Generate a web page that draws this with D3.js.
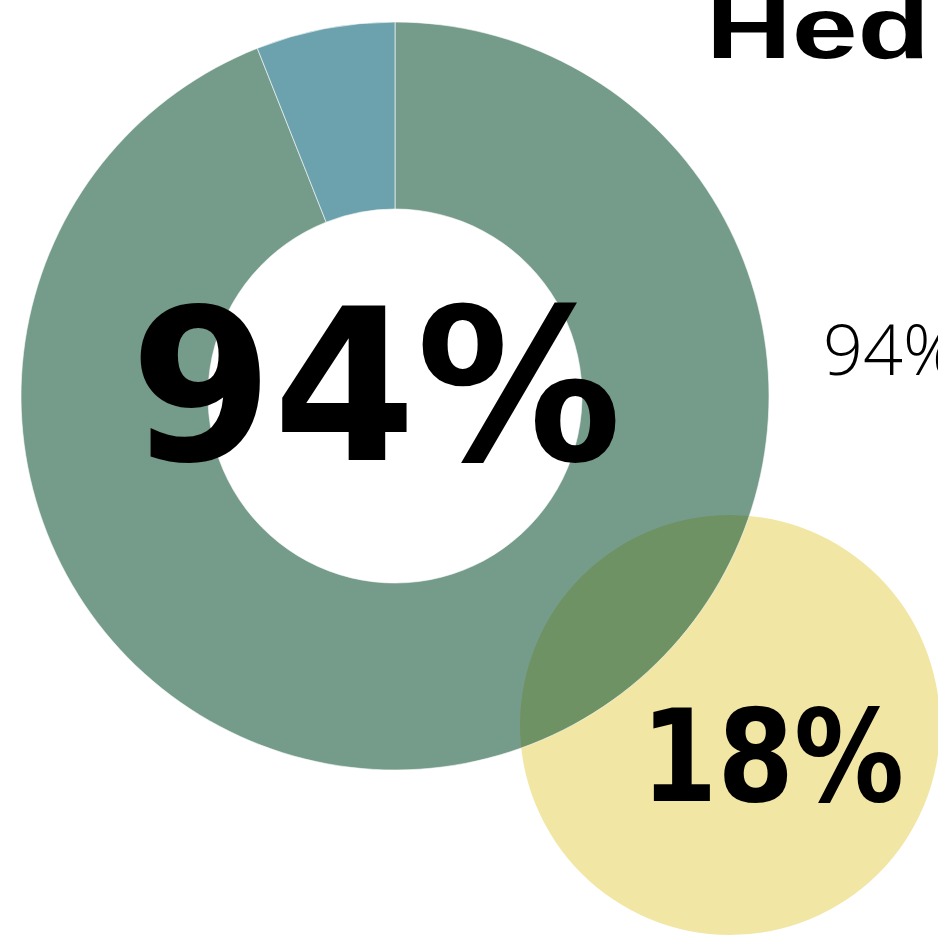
<!DOCTYPE html>
<html>
<head>
<meta charset="utf-8">
<script src="https://cdn.jsdelivr.net/npm/d3@7"></script>
<style>
  body { margin: 0; background: #fff; overflow: hidden; }
  svg { display: block; }
</style>
</head>
<body>
<div id="chart-area"></div>
<script>
// data
var segLabels = ["Yes", "No"];
var segValues = [94, 6];
var segColors = ["#115435", "#005f72"];
var mainLabel = "94%";
var bubbleValue = 18;
var bubbleLabel = "18%";
var titleText = "Hed";

var width = 938, height = 936;

var svg = d3.select("#chart-area").append("svg")
    .attr("width", width)
    .attr("height", height);

// yellow bubble, sized by its share
var bubbleR = d3.scaleSqrt().domain([0, 100]).range([0, 495]);
var bubble = svg.append("g")
    .attr("transform", "translate(730, 725)");
bubble.append("circle")
    .attr("r", bubbleR(bubbleValue))
    .attr("fill", "#f1e6a4");

// donut
var pie = d3.pie().sort(null).value(d => d);
var arc = d3.arc().innerRadius(187).outerRadius(374);

var donut = svg.append("g")
    .attr("transform", "translate(395, 396)");

donut.selectAll("path")
    .data(pie(segValues))
    .enter().append("path")
    .attr("d", arc)
    .attr("fill", (d, i) => segColors[i])
    .attr("fill-opacity", 0.58)
    .attr("stroke", "#fff")
    .attr("stroke-opacity", 0.6)
    .attr("stroke-width", 1);

// big labels, stretched to the width seen in the picture
function fitText(sel, w) {
    sel.attr("textLength", w).attr("lengthAdjust", "spacingAndGlyphs");
}

var big = svg.append("text")
    .attr("x", 130)
    .attr("y", 460)
    .attr("font-family", "DejaVu Sans")
    .attr("font-weight", "bold")
    .attr("font-size", 213)
    .attr("fill", "#000")
    .text(mainLabel);
fitText(big, 492);

var small = svg.append("text")
    .attr("x", 641)
    .attr("y", 801)
    .attr("font-family", "DejaVu Sans")
    .attr("font-weight", "bold")
    .attr("font-size", 128)
    .attr("fill", "#000")
    .text(bubbleLabel);
fitText(small, 263);

// side label (runs off the right edge) and title
svg.append("text")
    .attr("x", 823)
    .attr("y", 375)
    .attr("font-family", "Open Sans")
    .attr("font-weight", 300)
    .attr("font-size", 70)
    .attr("fill", "#000")
    .text(mainLabel);

var title = svg.append("text")
    .attr("x", 706)
    .attr("y", 58)
    .attr("font-family", "Liberation Sans")
    .attr("font-weight", "bold")
    .attr("font-size", 88)
    .attr("fill", "#000")
    .text(titleText);
fitText(title, 224);
</script>
</body>
</html>
